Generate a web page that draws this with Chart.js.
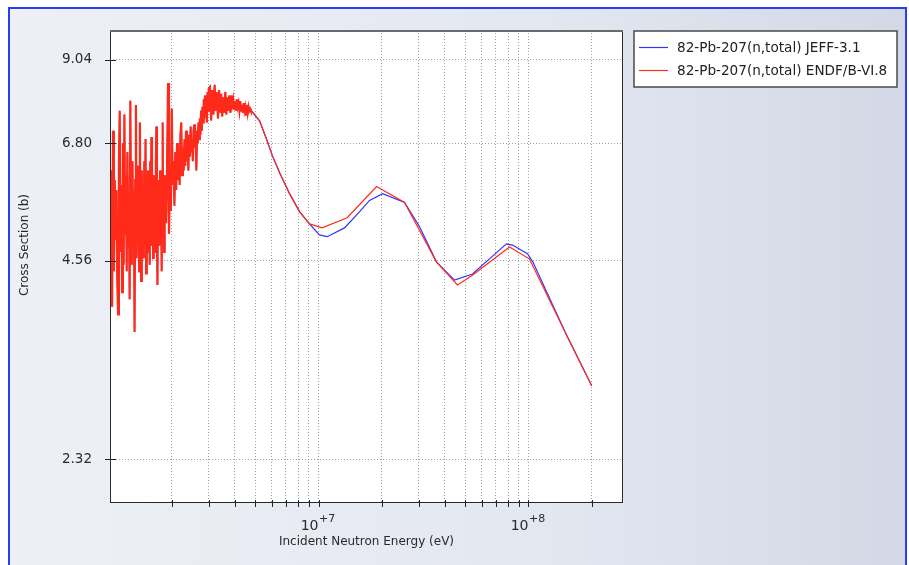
<!DOCTYPE html>
<html>
<head>
<meta charset="utf-8">
<title>82-Pb-207(n,total)</title>
<script src="https://cdn.jsdelivr.net/npm/chart.js@4.4.1/dist/chart.umd.min.js"></script>
<style>
  html, body { margin: 0; padding: 0; background: #ffffff; }
  #xsChart { display: block; }
</style>
</head>
<body>
<canvas id="xsChart" width="909" height="565"></canvas>
<script>
// Energies in MeV, cross sections in barns

// resonance region, 1.02 - 1.86 MeV
const resEnergyA = [
  1.02, 1.03, 1.04, 1.05, 1.06, 1.07, 1.08, 1.09, 1.10, 1.11,
  1.12, 1.13, 1.14, 1.15, 1.16, 1.17, 1.18, 1.19, 1.20, 1.21,
  1.22, 1.23, 1.24, 1.25, 1.26, 1.27, 1.28, 1.29, 1.30, 1.31,
  1.32, 1.33, 1.34, 1.35, 1.36, 1.37, 1.38, 1.39, 1.40, 1.41,
  1.42, 1.43, 1.44, 1.45, 1.46, 1.47, 1.48, 1.49, 1.50, 1.51,
  1.52, 1.53, 1.54, 1.55, 1.56, 1.57, 1.58, 1.59, 1.60, 1.61,
  1.62, 1.63, 1.64, 1.65, 1.66, 1.67, 1.68, 1.69, 1.70, 1.71,
  1.72, 1.73, 1.74, 1.75, 1.76, 1.77, 1.78, 1.79, 1.80, 1.81,
  1.82, 1.83, 1.84, 1.85, 1.86
];
const resSigmaA = [
  5.0, 6.2, 3.9, 7.1, 4.4, 6.0, 4.9, 5.8, 4.3, 3.8,
  6.3, 7.6, 4.7, 5.9, 4.1, 6.8, 4.5, 7.5, 5.0, 6.1,
  4.4, 6.6, 4.8, 5.7, 4.0, 7.86, 5.2, 4.5, 6.4, 4.9,
  5.8, 3.58, 6.0, 7.75, 4.6, 6.3, 5.0, 5.6, 4.4, 7.3,
  5.1, 4.26, 6.2, 4.8, 5.7, 4.6, 6.4, 4.9, 6.9, 4.37,
  5.9, 4.7, 6.2, 5.0, 5.6, 4.5, 6.4, 5.1, 6.95, 4.8,
  5.8, 4.6, 6.1, 5.0, 5.7, 4.7, 6.3, 7.2, 5.0, 4.2,
  6.0, 5.2, 5.9, 4.8, 6.2, 5.1, 5.7, 4.4, 6.0, 7.3,
  5.0, 5.8, 4.7, 6.1, 5.2
];

// resonance region, 1.88 - 3.00 MeV
const resEnergyB = [
  1.88, 1.90, 1.92, 1.94, 1.96, 1.98, 2.00, 2.02, 2.04, 2.06,
  2.08, 2.10, 2.12, 2.14, 2.16, 2.18, 2.20, 2.22, 2.24, 2.26,
  2.28, 2.30, 2.32, 2.34, 2.36, 2.38, 2.40, 2.42, 2.44, 2.46,
  2.48, 2.50, 2.52, 2.54, 2.56, 2.58, 2.60, 2.62, 2.64, 2.66,
  2.68, 2.70, 2.72, 2.74, 2.76, 2.78, 2.80, 2.82, 2.84, 2.86,
  2.88, 2.90, 2.92, 2.94, 2.96, 2.98, 3.00
];
const resSigmaB = [
  5.2, 6.3, 8.35, 5.0, 6.0, 5.4, 7.65, 5.9, 6.4, 5.5,
  6.6, 5.8, 6.8, 6.0, 6.5, 5.9, 7.0, 7.3, 6.1, 6.7,
  6.2, 6.9, 6.3, 7.1, 6.4, 6.8, 6.2, 7.0, 6.5, 7.2,
  6.6, 6.9, 6.4, 7.1, 7.25, 6.7, 7.0, 6.2, 7.1, 6.8,
  7.3, 6.9, 7.4, 7.0, 7.6, 7.1, 7.7, 7.3, 7.9, 7.4,
  8.0, 7.5, 7.9, 7.3, 8.1, 7.6, 8.2
];

// resonance region, 3.04 - 4.76 MeV
const resEnergyC = [
  3.04, 3.08, 3.12, 3.16, 3.20, 3.24, 3.28, 3.32, 3.36, 3.40,
  3.44, 3.48, 3.52, 3.56, 3.60, 3.64, 3.68, 3.72, 3.76, 3.80,
  3.84, 3.88, 3.92, 3.96, 4.00, 4.04, 4.08, 4.12, 4.16, 4.20,
  4.24, 4.28, 4.32, 4.36, 4.40, 4.44, 4.48, 4.52, 4.56, 4.60,
  4.64, 4.68, 4.72, 4.76
];
const resSigmaC = [
  8.24, 7.35, 8.15, 7.5, 8.3, 7.6, 8.1, 7.4, 8.15, 7.55,
  8.05, 7.45, 7.95, 7.55, 8.1, 7.5, 7.95, 7.6, 8.0, 7.55,
  8.0, 7.75, 7.9, 7.65, 7.85, 7.6, 7.9, 7.7, 7.8, 7.6,
  7.85, 7.6, 7.75, 7.55, 7.8, 7.6, 7.7, 7.5, 7.75, 7.55,
  7.7, 7.6, 7.65, 7.6
];

// smooth part shared by both evaluations
const smoothEnergy = [4.80, 5.24, 5.65, 6.04, 6.52, 7.28, 8.12, 9.06];
const smoothSigma = [7.59, 7.34, 6.90, 6.51, 6.16, 5.73, 5.39, 5.17];

// JEFF-3.1 above 10 MeV
const jeffEnergy = [10.1, 11.0, 13.3, 15.7, 17.5, 20.2, 25.7, 30.3, 36.5, 44.5, 54.1, 65.2, 78.5, 83.9, 98.9, 105, 152, 200];
const jeffSigma = [4.98, 4.95, 5.10, 5.39, 5.60, 5.73, 5.56, 5.12, 4.54, 4.27, 4.36, 4.59, 4.83, 4.81, 4.67, 4.54, 3.54, 2.98];

// ENDF/B-VI.8 above 10 MeV
const endfEnergy = [10.4, 13.7, 18.9, 25.7, 36.5, 45.9, 54.1, 81.2, 101, 152, 200];
const endfSigma = [5.10, 5.28, 5.87, 5.56, 4.54, 4.20, 4.34, 4.78, 4.59, 3.54, 2.98];

// axis ticks
const xTickEnergy = [2, 3, 4, 5, 6, 7, 8, 9, 10, 20, 30, 40, 50, 60, 70, 80, 90, 100, 200];
const xDecadeLabels = [[10, '10', '+7'], [100, '10', '+8']];
const yTickValues = [2.32, 4.56, 6.80, 9.04];

const seriesLabels = ['82-Pb-207(n,total) JEFF-3.1', '82-Pb-207(n,total) ENDF/B-VI.8'];
const seriesColors = ['#3232ff', '#ff2a1a'];
const yTitle = 'Cross Section (b)';

function toPoints(energies, sigmas) {
  return energies.map((e, i) => ({ x: e * 1e6, y: sigmas[i] }));
}

const resonancePoints = [].concat(
  toPoints(resEnergyA, resSigmaA),
  toPoints(resEnergyB, resSigmaB),
  toPoints(resEnergyC, resSigmaC),
  toPoints(smoothEnergy, smoothSigma)
);
const jeffPoints = resonancePoints.concat(toPoints(jeffEnergy, jeffSigma));
const endfPoints = resonancePoints.concat(toPoints(endfEnergy, endfSigma));
const resonanceEnd = smoothEnergy[0] * 1e6;

Chart.defaults.font.family = '"DejaVu Sans", sans-serif';
Chart.defaults.color = '#2a2a2a';

// fond, cadre bleu, zone de tracé, légende et étiquettes 10^n
const framePlugin = {
  id: 'frame',
  beforeDraw(chart) {
    const ctx = chart.ctx;
    const a = chart.chartArea;
    ctx.save();
    ctx.fillStyle = '#ffffff';
    ctx.fillRect(0, 0, chart.width, chart.height);
    const g = ctx.createLinearGradient(9, 0, 906, 0);
    g.addColorStop(0, '#eef0f6');
    g.addColorStop(0.6, '#e3e7f0');
    g.addColorStop(1, '#d3d8e6');
    ctx.fillStyle = g;
    ctx.fillRect(9, 8, 897, 557);
    ctx.strokeStyle = '#2b3cf2';
    ctx.lineWidth = 2;
    ctx.beginPath();
    ctx.moveTo(9, 565);
    ctx.lineTo(9, 8);
    ctx.lineTo(906, 8);
    ctx.lineTo(906, 565);
    ctx.stroke();

    ctx.fillStyle = '#ffffff';
    ctx.fillRect(a.left, a.top, a.right - a.left, a.bottom - a.top);
    ctx.restore();
  },
  afterDraw(chart) {
    const ctx = chart.ctx;
    const a = chart.chartArea;
    const xs = chart.scales.x, ys = chart.scales.y;
    ctx.save();
    ctx.strokeStyle = '#222';
    ctx.lineWidth = 1;
    // tick marks crossing the axes
    ctx.beginPath();
    xs.ticks.forEach(t => {
      const px = Math.round(xs.getPixelForValue(t.value)) + 0.5;
      ctx.moveTo(px, a.bottom - 3);
      ctx.lineTo(px, a.bottom + 4);
    });
    ys.ticks.forEach(t => {
      const py = Math.round(ys.getPixelForValue(t.value)) + 0.5;
      ctx.moveTo(a.left - 5, py);
      ctx.lineTo(a.left + 6, py);
    });
    ctx.stroke();
    // plot frame
    ctx.strokeStyle = '#2a2a2a';
    ctx.strokeRect(a.left + 0.5, a.top + 0.5, a.right - a.left - 1, a.bottom - a.top - 1);
    ctx.strokeStyle = '#6a6a6a';
    ctx.lineWidth = 2;
    ctx.beginPath();
    ctx.moveTo(a.left, a.top + 1);
    ctx.lineTo(a.right, a.top + 1);
    ctx.stroke();

    // decade labels with superscript exponent
    ctx.fillStyle = '#2a2a2a';
    ctx.textBaseline = 'alphabetic';
    xDecadeLabels.forEach(([e, base, exp]) => {
      const px = xs.getPixelForValue(e * 1e6);
      ctx.font = '14px "DejaVu Sans"';
      ctx.textAlign = 'right';
      ctx.fillText(base, px, a.bottom + 27);
      ctx.font = '11px "DejaVu Sans"';
      ctx.textAlign = 'left';
      ctx.fillText(exp, px + 0.5, a.bottom + 19);
    });

    // y axis title, a little above the middle as in the original
    ctx.save();
    ctx.translate(25, 245);
    ctx.rotate(-Math.PI / 2);
    ctx.font = '12px "DejaVu Sans"';
    ctx.textAlign = 'center';
    ctx.textBaseline = 'middle';
    ctx.fillText(yTitle, 0, 0);
    ctx.restore();

    // legend box
    const bx = 634, by = 31, bw = 263, bh = 56;
    ctx.fillStyle = '#ffffff';
    ctx.fillRect(bx, by, bw, bh);
    ctx.strokeStyle = '#4a4a4a';
    ctx.lineWidth = 1.5;
    ctx.strokeRect(bx, by, bw, bh);
    ctx.font = '13.6px "DejaVu Sans"';
    ctx.textAlign = 'left';
    ctx.textBaseline = 'middle';
    chart.data.datasets.forEach((ds, i) => {
      const ly = by + 16.5 + i * 23;
      ctx.strokeStyle = ds.borderColor;
      ctx.lineWidth = 1.2;
      ctx.beginPath();
      ctx.moveTo(bx + 5, ly);
      ctx.lineTo(bx + 34, ly);
      ctx.stroke();
      ctx.fillStyle = '#222';
      ctx.fillText(ds.label, bx + 43, ly + 0.5);
    });
    ctx.restore();
  }
};

const ctx = document.getElementById('xsChart');
new Chart(ctx, {
  type: 'line',
  data: {
    datasets: [
      {
        label: seriesLabels[0],
        data: jeffPoints,
        borderColor: seriesColors[0],
        backgroundColor: seriesColors[0],
        borderWidth: 1.2,
        pointRadius: 0,
        tension: 0,
        fill: false,
        order: 1
      },
      {
        label: seriesLabels[1],
        data: endfPoints,
        borderColor: seriesColors[1],
        backgroundColor: seriesColors[1],
        borderWidth: 1.2,
        pointRadius: 0,
        tension: 0,
        fill: false,
        order: 0,
        segment: {
          // the dense resonance part reads as a solid band in the original
          borderWidth: c => (c.p1.parsed.x <= resonanceEnd ? 2.2 : 1.2)
        }
      }
    ]
  },
  options: {
    responsive: false,
    animation: false,
    layout: { padding: { left: 12, top: 30, right: 286, bottom: 10 } },
    plugins: {
      tooltip: { enabled: false },
      legend: { display: false }
    },
    scales: {
      x: {
        type: 'logarithmic',
        min: 1.016e6,
        max: 2.82e8,
        afterBuildTicks: scale => {
          scale.ticks = xTickEnergy.map(e => ({ value: e * 1e6 }));
        },
        afterFit: scale => { scale.height = 52; },
        ticks: {
          autoSkip: false,
          maxRotation: 0,
          callback: () => ''
        },
        grid: {
          color: '#a0a0a0',
          drawTicks: false
        },
        border: { display: false, dash: [1, 2] },
        title: {
          display: true,
          text: 'Incident Neutron Energy (eV)',
          font: { size: 12 },
          color: '#2a2a2a',
          padding: { top: 0, bottom: 6 }
        }
      },
      y: {
        type: 'logarithmic',
        min: 2,
        max: 10,
        afterBuildTicks: scale => {
          scale.ticks = yTickValues.map(v => ({ value: v }));
        },
        afterFit: scale => { scale.width = 98; },
        ticks: {
          padding: 18,
          color: '#2a2a2a',
          font: { size: 13.5 },
          callback: value => Number(value).toFixed(2)
        },
        grid: {
          color: '#a0a0a0',
          drawTicks: false
        },
        border: { display: false, dash: [1, 2] },
        title: { display: false }
      }
    }
  },
  plugins: [framePlugin]
});
</script>
</body>
</html>
